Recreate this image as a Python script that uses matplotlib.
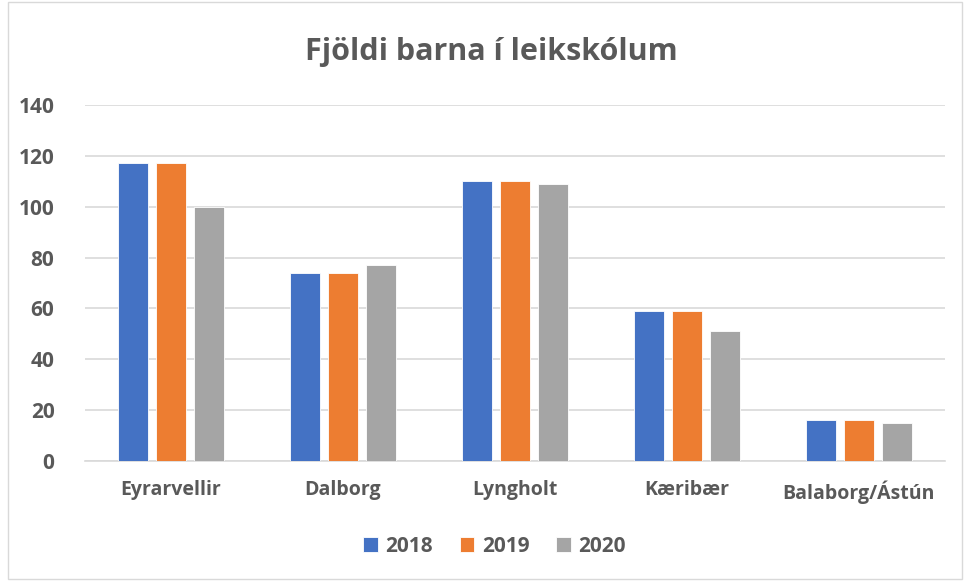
import numpy as np
import matplotlib.pyplot as plt
from matplotlib.patches import Rectangle

plt.rcParams['font.family'] = ['Open Sans', 'DejaVu Sans']

categories = ['Eyrarvellir', 'Dalborg', 'Lyngholt', 'Kæribær', 'Balaborg/Ástún']
years = ['2018', '2019', '2020']
v2018 = [117, 74, 110, 59, 16]
v2019 = [117, 74, 110, 59, 16]
v2020 = [100, 77, 109, 51, 15]
colors = ['#4472c4', '#ed7d31', '#a5a5a5']

text_color = '#595959'
grid_color = '#d9d9d9'

fig = plt.figure(figsize=(9.64, 5.81), dpi=100)
ax = fig.add_axes([0.0882, 0.2065, 0.8918, 0.6128])

x = np.arange(len(categories))
width = 0.174
step = 0.221
for i, (vals, yr) in enumerate(zip([v2018, v2019, v2020], years)):
    ax.bar(x + (i - 1) * step, vals, width, color=colors[i], label=yr,
           edgecolor='white', linewidth=0.6, zorder=3)

ax.set_xlim(-0.5, len(categories) - 0.5)
ax.set_ylim(0, 140)
ax.set_yticks(range(0, 141, 20))
ax.yaxis.grid(True, color=grid_color, linewidth=1.2, zorder=0)
ax.set_axisbelow(True)
for s in ['top', 'right', 'left']:
    ax.spines[s].set_visible(False)
ax.spines['bottom'].set_color(grid_color)
ax.spines['bottom'].set_linewidth(1.2)

ax.set_xticks(x)
ax.set_xticklabels(categories, fontsize=14, fontweight='bold', color=text_color)
ax.tick_params(axis='x', length=0, pad=14)
ax.tick_params(axis='y', length=0, pad=22, labelsize=15, labelcolor=text_color)
for lbl in ax.get_yticklabels():
    lbl.set_fontweight('bold')

fig.text(0.51, 0.91, 'Fjöldi barna í leikskólum', ha='center', va='center',
         fontsize=22, fontweight='bold', color=text_color)

leg = fig.legend(loc='center', bbox_to_anchor=(0.513, 0.06), ncol=3, frameon=False,
                 handlelength=0.7, handleheight=0.7, handletextpad=0.35,
                 columnspacing=1.3, prop={'size': 15, 'weight': 'bold'})
for t in leg.get_texts():
    t.set_color(text_color)

fig.patches.append(Rectangle((0.008, 0.004), 0.99, 0.992, transform=fig.transFigure,
                             fill=False, edgecolor='#d9d9d9', linewidth=1))

fig.savefig('out.png', dpi=100)
